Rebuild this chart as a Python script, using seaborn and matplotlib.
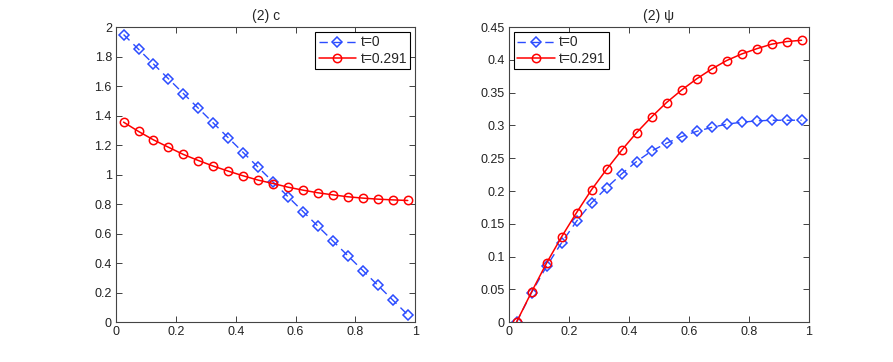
import numpy as np
import pandas as pd
import matplotlib
matplotlib.use("Agg")
import matplotlib.pyplot as plt
import seaborn as sns

# du lieu doc tu hinh
x_vals = [0.025, 0.075, 0.125, 0.175, 0.225, 0.275, 0.325, 0.375, 0.425, 0.475,
          0.525, 0.575, 0.625, 0.675, 0.725, 0.775, 0.825, 0.875, 0.925, 0.975]

c_t0 = [1.95, 1.85, 1.75, 1.65, 1.55, 1.45, 1.35, 1.25, 1.15, 1.05,
        0.95, 0.85, 0.75, 0.65, 0.55, 0.45, 0.35, 0.25, 0.15, 0.05]
c_t1 = [1.356, 1.293, 1.236, 1.186, 1.137, 1.096, 1.058, 1.024, 0.992, 0.963,
        0.940, 0.915, 0.895, 0.877, 0.863, 0.850, 0.841, 0.834, 0.829, 0.825]

psi_t0 = [0.0, 0.045, 0.085, 0.121, 0.154, 0.182, 0.205, 0.226, 0.245, 0.261,
          0.273, 0.283, 0.291, 0.297, 0.302, 0.305, 0.307, 0.308, 0.308, 0.308]
psi_t1 = [0.0, 0.046, 0.090, 0.130, 0.167, 0.202, 0.233, 0.262, 0.289, 0.313,
          0.335, 0.354, 0.371, 0.386, 0.399, 0.409, 0.417, 0.424, 0.428, 0.430]

labels = ["t=0", "t=0.291"]
titles = ["(2) c", "(2) \u03c8"]

sns.set_style("ticks")
plt.rcParams['font.family'] = ['Liberation Sans', 'DejaVu Sans']
plt.rcParams['font.size'] = 9

blue = "#2b4cff"
red = "#ff0000"


def draw_panel(ax, y0, y1, title, ylim, yticks, loc):
    df0 = pd.DataFrame({"x": x_vals, "y": y0})
    df1 = pd.DataFrame({"x": x_vals, "y": y1})
    sns.lineplot(data=df0, x="x", y="y", ax=ax, color=blue, linestyle=(0, (6, 4)),
                 linewidth=1.0, marker="D", markersize=5, markerfacecolor="none",
                 markeredgecolor=blue, markeredgewidth=1.1, label=labels[0])
    sns.lineplot(data=df1, x="x", y="y", ax=ax, color=red, linewidth=1.1,
                 marker="o", markersize=6, markerfacecolor="none",
                 markeredgecolor=red, markeredgewidth=1.1, label=labels[1])
    ax.set_xlim(0, 1)
    ax.set_ylim(*ylim)
    ax.set_xticks([0, 0.2, 0.4, 0.6, 0.8, 1])
    ax.set_xticklabels(["0", "0.2", "0.4", "0.6", "0.8", "1"])
    ax.set_yticks(yticks)
    ax.set_yticklabels([("%g" % v) for v in yticks])
    ax.set_xlabel("")
    ax.set_ylabel("")
    ax.set_title(title, fontsize=10, pad=5)
    ax.tick_params(direction="in", top=True, right=True, length=4, width=0.6,
                   labelsize=9, colors="#222222", pad=3)
    for s in ax.spines.values():
        s.set_visible(True)
        s.set_linewidth(0.8)
        s.set_color("#444444")
    leg = ax.legend(loc=loc, fontsize=10, frameon=True, fancybox=False,
                    edgecolor="black", framealpha=1, borderaxespad=0.35,
                    handlelength=2.7, handletextpad=0.3, borderpad=0.25,
                    labelspacing=0.15)
    leg.get_frame().set_linewidth(0.8)


fig = plt.figure(figsize=(8.93, 3.62), dpi=100)
ax1 = fig.add_axes([0.130, 0.110, 0.335, 0.815])
ax2 = fig.add_axes([0.570, 0.110, 0.336, 0.815])

draw_panel(ax1, c_t0, c_t1, titles[0], (0, 2),
           [0, 0.2, 0.4, 0.6, 0.8, 1, 1.2, 1.4, 1.6, 1.8, 2], "upper right")
draw_panel(ax2, psi_t0, psi_t1, titles[1], (0, 0.45),
           [0, 0.05, 0.1, 0.15, 0.2, 0.25, 0.3, 0.35, 0.4, 0.45], "upper left")

fig.savefig("out.png", dpi=100)
